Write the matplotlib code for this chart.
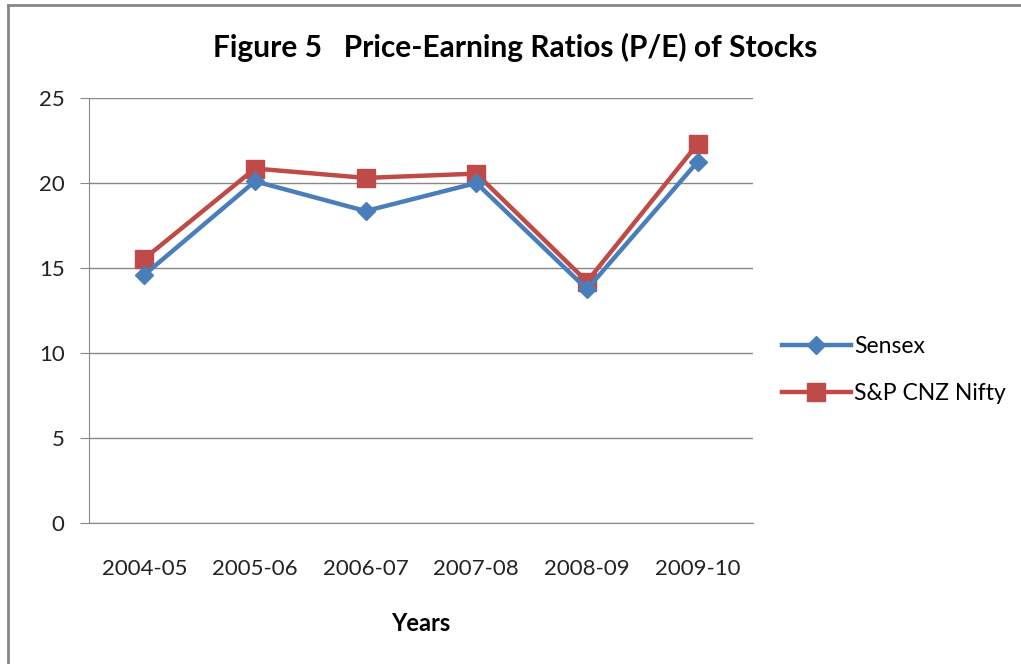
import matplotlib
matplotlib.use("Agg")
import matplotlib.pyplot as plt
from matplotlib.lines import Line2D

years = ["2004-05", "2005-06", "2006-07", "2007-08", "2008-09", "2009-10"]
sensex = [14.6, 20.1, 18.35, 20.0, 13.75, 21.25]
nifty = [15.55, 20.85, 20.3, 20.55, 14.2, 22.3]
yticks = [0, 5, 10, 15, 20, 25]

plt.rcParams['font.family'] = ['Lato', 'DejaVu Sans']

fig = plt.figure(figsize=(10.21, 6.64), dpi=100)
W, H = 1021, 664
ax = fig.add_axes([89 / W, (H - 523) / H, (753 - 89) / W, (523 - 98) / H])

x = list(range(len(years)))
ax.plot(x, sensex, color="#4A7EBB", lw=3.2, marker="D", ms=9, label="Sensex", zorder=3)
ax.plot(x, nifty, color="#BE4B48", lw=3.2, marker="s", ms=13, label="S&P CNZ Nifty", zorder=2)

ax.set_xlim(-0.5, 5.5)
ax.set_ylim(0, 25)
ax.set_yticks(yticks)
ax.set_yticklabels([str(v) for v in yticks], fontsize=16, color="#222222")
ax.set_xticks(x)
ax.set_xticklabels(years, fontsize=16, color="#222222")
ax.tick_params(axis="x", length=0, pad=26)
ax.tick_params(axis="y", length=6.5, color="#888888", pad=11)
ax.grid(axis="y", color="#888888", lw=1)
ax.set_axisbelow(True)
for s in ["top", "right"]:
    ax.spines[s].set_visible(False)
ax.spines["left"].set_color("#888888")
ax.spines["bottom"].set_color("#888888")

ax.set_xlabel("Years", fontsize=17, fontweight="bold", labelpad=24)
fig.text(0.505, 1 - 47 / H, "Figure 5   Price-Earning Ratios (P/E) of Stocks",
         ha="center", va="center", fontsize=21.5, fontweight="bold")

leg = ax.legend(loc="center left", bbox_to_anchor=(782 / W, (H - 370) / H),
                bbox_transform=fig.transFigure, frameon=False, fontsize=16.5,
                handlelength=3.0, labelspacing=1.1, handletextpad=0.15,
                borderpad=0, borderaxespad=0)

fig.add_artist(Line2D([8 / W, 8 / W], [0, (H - 5) / H], transform=fig.transFigure,
                      color="#888888", lw=2))
fig.add_artist(Line2D([8 / W, 1], [(H - 5) / H, (H - 5) / H], transform=fig.transFigure,
                      color="#888888", lw=2))

fig.savefig("out.png", dpi=100)
